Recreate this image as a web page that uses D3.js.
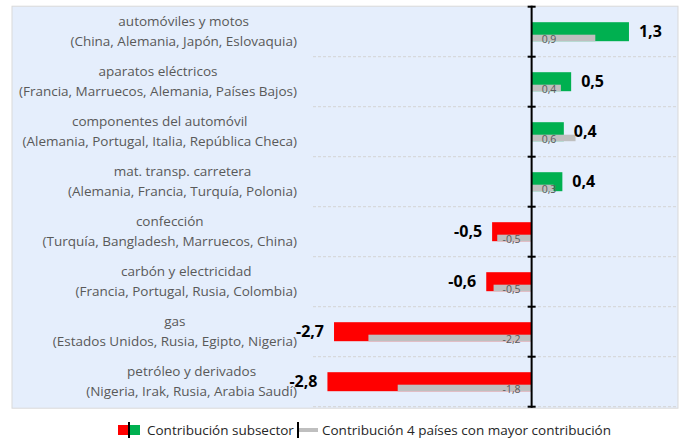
<!DOCTYPE html>
<html>
<head>
<meta charset="utf-8">
<script src="https://cdn.jsdelivr.net/npm/d3@7"></script>
<style>
  body { margin: 0; background: #fff; }
  text { font-family: "Open Sans", "Noto Sans", sans-serif; }
</style>
</head>
<body>
<svg id="chart"></svg>
<script>
//*************** data ******************//
var subsectors = ["automóviles y motos", "aparatos eléctricos", "componentes del automóvil",
  "mat. transp. carretera", "confección", "carbón y electricidad", "gas", "petróleo y derivados"];
var countries = ["(China, Alemania, Japón, Eslovaquia)", "(Francia, Marruecos, Alemania, Países Bajos)",
  "(Alemania, Portugal, Italia, República Checa)", "(Alemania, Francia, Turquía, Polonia)",
  "(Turquía, Bangladesh, Marruecos, China)", "(Francia, Portugal, Rusia, Colombia)",
  "(Estados Unidos, Rusia, Egipto, Nigeria)", "(Nigeria, Irak, Rusia, Arabia Saudí)"];
var contribSubsector = [1.33, 0.54, 0.44, 0.42, -0.54, -0.62, -2.70, -2.79];
var contribTop4 = [0.87, 0.40, 0.60, 0.30, -0.47, -0.52, -2.23, -1.83];
var legendLabels = ["Contribución subsector", "Contribución 4 países con mayor contribución"];

//*************** initialise parameters ******************//
var W = 687, H = 446;
var plot = {left: 12, top: 6.7, right: 678, bottom: 406.7};

var svg = d3.select("#chart").attr("width", W).attr("height", H);

var xScale = d3.scaleLinear().domain([-7.1, 2.0]).range([plot.left, plot.right]);
var yScale = d3.scaleBand().domain(subsectors).range([plot.top, plot.bottom]);
var fmt = function(v) { return d3.format(".1f")(v).replace(".", ",").replace("−", "-"); };

var x0 = xScale(0);
var bw = yScale.bandwidth();
var barH = bw * 0.38, greyH = 6.5;

//--------------- plot area background
svg.append("rect")
  .attr("x", plot.left).attr("y", plot.top - 0.5)
  .attr("width", plot.right - plot.left).attr("height", plot.bottom - plot.top + 2)
  .attr("fill", "#E5EEFC").attr("stroke", "#D9D9D9");

// dashed gridlines between categories
svg.append("g").selectAll("line")
  .data(subsectors.slice(1).concat(["end"]))
  .enter().append("line")
  .attr("x1", 313).attr("x2", plot.right)
  .attr("y1", function(d, i) { return plot.top + (i + 1) * bw; })
  .attr("y2", function(d, i) { return plot.top + (i + 1) * bw; })
  .attr("stroke", "#D4D4D4").attr("stroke-dasharray", "3,2");

//--------------- bars
var rows = subsectors.map(function(s, i) {
  return {cat: s, ctry: countries[i], total: contribSubsector[i], top4: contribTop4[i]};
});

var g = svg.append("g");

g.selectAll(".bar-total").data(rows).enter().append("rect")
  .attr("class", "bar-total")
  .attr("x", function(d) { return Math.min(x0, xScale(d.total)); })
  .attr("y", function(d) { return yScale(d.cat) + (bw - barH) / 2; })
  .attr("width", function(d) { return Math.abs(xScale(d.total) - x0); })
  .attr("height", barH)
  .attr("fill", function(d) { return d.total >= 0 ? "#00B050" : "#FF0000"; });

g.selectAll(".bar-top4").data(rows).enter().append("rect")
  .attr("class", "bar-top4")
  .attr("x", function(d) { return Math.min(x0, xScale(d.top4)); })
  .attr("y", function(d) { return yScale(d.cat) + (bw + barH) / 2 - greyH; })
  .attr("width", function(d) { return Math.abs(xScale(d.top4) - x0); })
  .attr("height", greyH)
  .attr("fill", "#BFBFBF");

// small grey labels
g.selectAll(".lab-top4").data(rows).enter().append("text")
  .attr("x", function(d) { return d.top4 >= 0 ? x0 + 10 : x0 - 11; })
  .attr("y", function(d) { return yScale(d.cat) + (bw + barH) / 2 + 1.5; })
  .attr("text-anchor", function(d) { return d.top4 >= 0 ? "start" : "end"; })
  .attr("font-size", "10.5px").attr("fill", "#595959")
  .text(function(d) { return fmt(d.top4); });

// bold value labels
g.selectAll(".lab-total").data(rows).enter().append("text")
  .attr("x", function(d) { return d.total >= 0 ? xScale(d.total) + 10 : xScale(d.total) - 10; })
  .attr("y", function(d) { return yScale(d.cat) + bw / 2; })
  .attr("dy", "0.35em")
  .attr("text-anchor", function(d) { return d.total >= 0 ? "start" : "end"; })
  .attr("font-size", "16px").attr("font-weight", "bold").attr("fill", "#000")
  .text(function(d) { return fmt(d.total); });

//--------------- zero axis with ticks
svg.append("line")
  .attr("x1", x0).attr("x2", x0).attr("y1", plot.top - 1).attr("y2", plot.bottom + 1)
  .attr("stroke", "#000").attr("stroke-width", 2);
svg.append("g").selectAll("line")
  .data(d3.range(subsectors.length + 1))
  .enter().append("line")
  .attr("x1", x0 - 4).attr("x2", x0 + 4)
  .attr("y1", function(d) { return plot.top + d * bw; })
  .attr("y2", function(d) { return plot.top + d * bw; })
  .attr("stroke", "#000").attr("stroke-width", 2);

//--------------- category labels (two lines, block right-aligned)
var labelRight = 297;
var cl = svg.append("g").selectAll("g").data(rows).enter().append("g");
cl.each(function(d) {
  var el = d3.select(this);
  var cy = yScale(d.cat) + bw / 2;
  var t1 = el.append("text").attr("y", cy - 10).attr("dy", "0.35em")
    .attr("text-anchor", "middle").attr("font-size", "13.5px").attr("fill", "#595959").text(d.cat);
  var t2 = el.append("text").attr("y", cy + 10).attr("dy", "0.35em")
    .attr("text-anchor", "middle").attr("font-size", "13.5px").attr("fill", "#595959").text(d.ctry);
  var wMax = Math.max(t1.node().getComputedTextLength(), t2.node().getComputedTextLength());
  var cx = labelRight - wMax / 2;
  t1.attr("x", cx); t2.attr("x", cx);
});

//--------------- legend
var lg = svg.append("g").attr("transform", "translate(118,430)");
lg.append("rect").attr("x", 0).attr("y", -5).attr("width", 11).attr("height", 10).attr("fill", "#FF0000");
lg.append("rect").attr("x", 11).attr("y", -5).attr("width", 11).attr("height", 10).attr("fill", "#00B050");
lg.append("line").attr("x1", 11).attr("x2", 11).attr("y1", -8).attr("y2", 8).attr("stroke", "#000").attr("stroke-width", 2);
lg.append("text").attr("x", 29).attr("dy", "0.35em").attr("font-size", "13.5px").attr("fill", "#262626")
  .text(legendLabels[0]);
lg.append("line").attr("x1", 180).attr("x2", 180).attr("y1", -8).attr("y2", 8).attr("stroke", "#000").attr("stroke-width", 2);
lg.append("line").attr("x1", 181).attr("x2", 200).attr("y1", 0).attr("y2", 0).attr("stroke", "#BFBFBF").attr("stroke-width", 4);
lg.append("text").attr("x", 204).attr("dy", "0.35em").attr("font-size", "13.5px").attr("fill", "#262626")
  .text(legendLabels[1]);
</script>
</body>
</html>
